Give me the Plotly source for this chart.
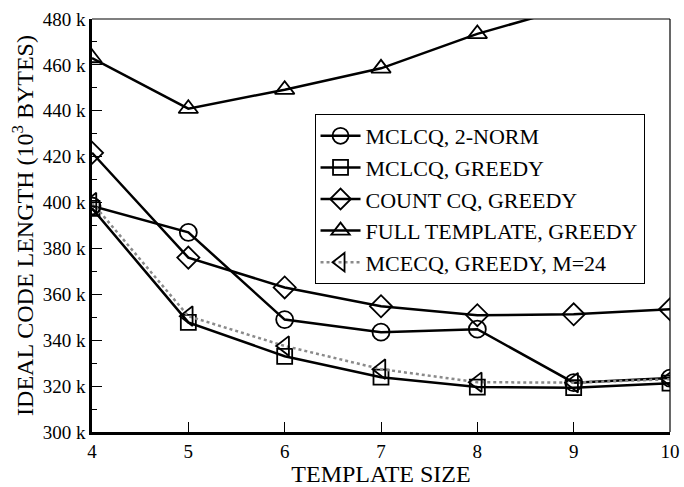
import plotly.graph_objects as go

template_size = [4, 5, 6, 7, 8, 9, 10]
mclcq_2norm = [398.5, 387, 349, 343.5, 344.8, 321.5, 323.5]
mclcq_greedy = [397.5, 347.8, 333, 323.9, 319.6, 319.3, 321.3]
count_cq_greedy = [421.7, 376, 363, 354.8, 350.9, 351.3, 353.5]
full_template_greedy = [463, 440.9, 449.2, 458.5, 473.5, 485.5, 495]
mcecq_greedy_m24 = [400, 350.5, 337.5, 327.4, 321.7, 321.5, 323]

y_tick_vals = [300, 320, 340, 360, 380, 400, 420, 440, 460, 480]
y_tick_text = [f"{v} k" for v in y_tick_vals]
x_tick_vals = [4, 5, 6, 7, 8, 9, 10]

font = "Liberation Serif"

fig = go.Figure()

series = [
    ("MCLCQ, 2-NORM", mclcq_2norm, "circle-open", 17, "black", "solid"),
    ("MCLCQ, GREEDY", mclcq_greedy, "square-open", 15, "black", "solid"),
    ("COUNT CQ, GREEDY", count_cq_greedy, "diamond-open", 17, "black", "solid"),
    ("FULL TEMPLATE, GREEDY", full_template_greedy, "triangle-up-open", 17, "black", "solid"),
    ("MCECQ, GREEDY, M=24", mcecq_greedy_m24, "triangle-left-open", 17, "#8a8a8a", "dot"),
]

for name, vals, sym, size, col, dash in series:
    fig.add_trace(go.Scatter(
        x=template_size, y=vals, name=name, mode="lines+markers",
        line=dict(color=col, width=2.5, dash=dash),
        marker=dict(symbol=sym, size=size, color="black",
                    line=dict(color="black", width=1.8)),
    ))

fig.update_layout(
    width=684, height=487,
    margin=dict(l=92, r=14, t=19, b=55, autoexpand=False),
    paper_bgcolor="white", plot_bgcolor="white",
    font=dict(family=font, size=19, color="black"),
    showlegend=True,
    legend=dict(
        x=0.385, y=0.77, xanchor="left", yanchor="top",
        bgcolor="white", bordercolor="black", borderwidth=1,
        font=dict(family=font, size=22, color="black"),
        tracegroupgap=0, itemwidth=40,
    ),
    xaxis=dict(
        range=[4, 10], tickvals=x_tick_vals, automargin=False,
        ticks="inside", ticklen=10, tickwidth=1, tickcolor="black",
        showline=True, linecolor="black", linewidth=2.5, mirror=False,
        showgrid=False, zeroline=False,
        tickfont=dict(family=font, size=19),
        title=dict(text="TEMPLATE SIZE", font=dict(family=font, size=24), standoff=0),
    ),
    yaxis=dict(
        range=[300, 480], tickvals=y_tick_vals, ticktext=y_tick_text, automargin=False,
        ticks="inside", ticklen=10, tickwidth=1, tickcolor="black",
        minor=dict(dtick=10, ticks="inside", ticklen=5, tickcolor="black", tickwidth=1),
        showline=True, linecolor="black", linewidth=2.5, mirror=False,
        showgrid=False, zeroline=False,
        tickfont=dict(family=font, size=19),
        title=dict(text="IDEAL CODE LENGTH (10<sup>3</sup> BYTES)",
                   font=dict(family=font, size=24), standoff=3),
    ),
)

fig.add_shape(type="line", xref="paper", yref="paper", x0=0, x1=1, y0=1, y1=1,
              line=dict(color="black", width=1.2))
fig.add_shape(type="line", xref="paper", yref="paper", x0=1, x1=1, y0=0, y1=1,
              line=dict(color="black", width=1.2))

fig.write_html("out.html", config={"displayModeBar": False},
               post_script="document.body.style.margin='0';")
